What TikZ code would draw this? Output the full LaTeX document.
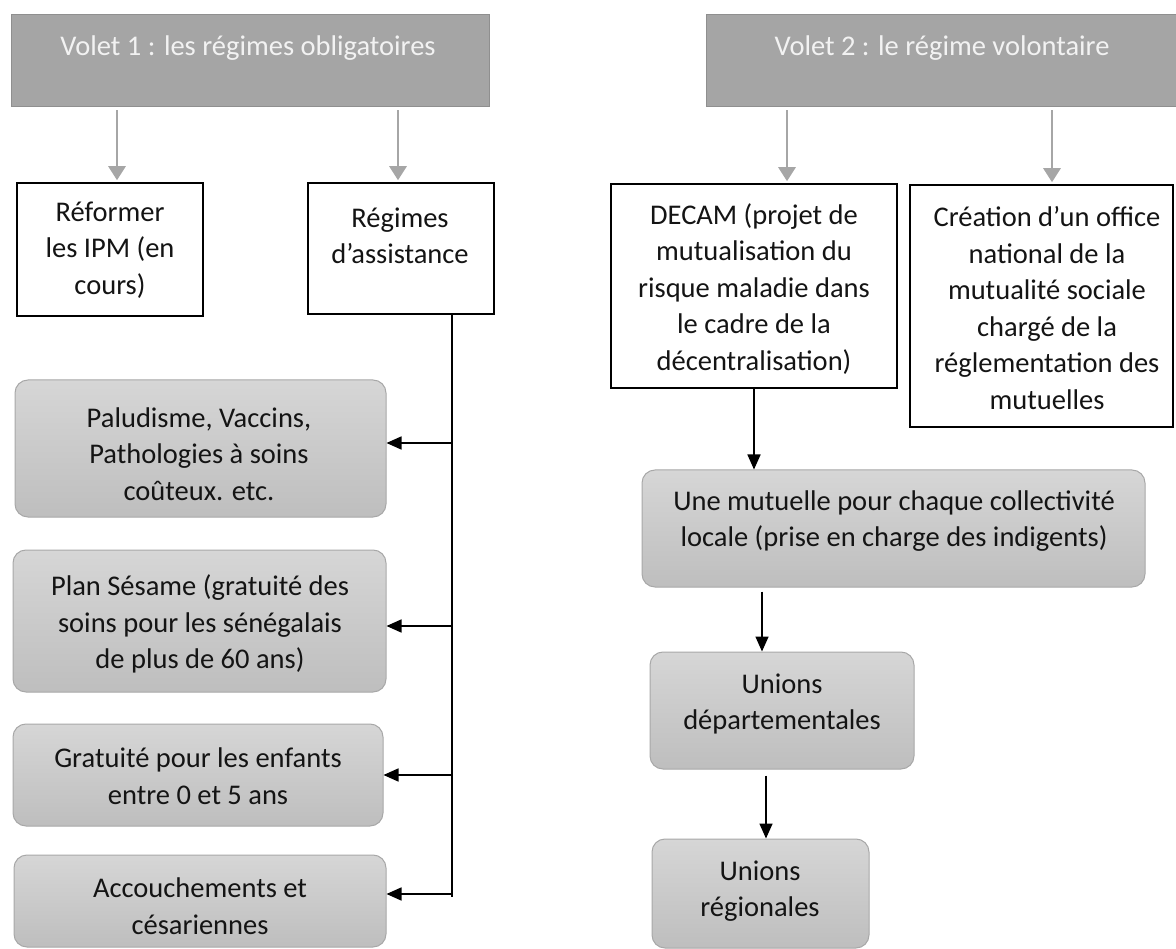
\documentclass[tikz,border=0pt]{standalone}
\usepackage{fontspec}
\setmainfont{Carlito}
\usetikzlibrary{arrows.meta,calc}
\definecolor{hdrfill}{HTML}{A5A5A5}
\definecolor{hdrline}{HTML}{8F8F8F}
\definecolor{hdrtext}{HTML}{F2F2F2}
\definecolor{bodytext}{HTML}{141414}
\definecolor{rtop}{HTML}{D6D6D6}
\definecolor{rbot}{HTML}{BEBEBE}
\definecolor{rline}{HTML}{A8A8A8}
\definecolor{garrow}{HTML}{A6A6A6}
\begin{document}
\begin{tikzpicture}[x=1pt,y=-1pt,
  hdr/.style={rectangle, fill=hdrfill, draw=hdrline, line width=1pt, inner sep=0pt},
  sqbox/.style={rectangle, fill=white, draw=black, line width=1.5pt, inner sep=0pt},
  rbox/.style={rectangle, rounded corners=13pt, top color=rtop, bottom color=rbot, draw=rline, line width=1pt, inner sep=0pt},
  txt/.style={font=\fontsize{28.5pt}{36.5pt}\selectfont, align=center, text=bodytext, inner sep=0pt},
  htxt/.style={txt, text=hdrtext},
  garr/.style={draw=garrow, line width=2.8pt, -{Triangle[length=14pt,width=17pt]}},
  barr/.style={draw=black, line width=1.6pt, -{Triangle[length=15pt,width=13pt]}},
  bline/.style={draw=black, line width=1.6pt}
]
\useasboundingbox (0,0) rectangle (1176,949);

% headers
\node[hdr, minimum width=478pt, minimum height=92pt] (h1) at (250,61) {};
\node[htxt] (th1) at (248,48) {Volet 1 : les régimes obligatoires};
\node[hdr, minimum width=471pt, minimum height=92pt] (h2) at (941.5,61) {};
\node[htxt] (th2) at (942,48) {Volet 2 : le régime volontaire};

% left square boxes
\node[sqbox, minimum width=186pt, minimum height=133pt] (r1) at (110,249.5) {};
\node[txt] (tr1) at (110,250) {Réformer\\les IPM (en\\cours)};
\node[sqbox, minimum width=186pt, minimum height=131pt] (r2) at (401,248.5) {};
\node[txt] (tr2) at (400,236) {Régimes\\d’assistance};

% right square boxes
\node[sqbox, minimum width=286pt, minimum height=204pt] (d1) at (754,286) {};
\node[txt] (td1) at (754,289) {DECAM (projet de\\mutualisation du\\risque maladie dans\\le cadre de la\\décentralisation)};
\node[sqbox, minimum width=263pt, minimum height=242pt] (c1) at (1041.5,306) {};
\node[txt] (tc1) at (1047,308) {Création d’un office\\national de la\\mutualité sociale\\chargé de la\\réglementation des\\mutuelles};

% left rounded boxes
\node[rbox, minimum width=371pt, minimum height=137pt] (p1) at (200.5,448.5) {};
\node[txt] (tp1) at (199,454) {Paludisme, Vaccins,\\Pathologies à soins\\coûteux. etc.};
\node[rbox, minimum width=373pt, minimum height=142pt] (p2) at (199.5,621) {};
\node[txt] (tp2) at (200,624) {Plan Sésame (gratuité des\\soins pour les sénégalais\\de plus de 60 ans)};
\node[rbox, minimum width=370pt, minimum height=102pt] (p3) at (198,775) {};
\node[txt] (tp3) at (198,776) {Gratuité pour les enfants\\entre 0 et 5 ans};
\node[rbox, minimum width=372pt, minimum height=92pt] (p4) at (200,901) {};
\node[txt] (tp4) at (200,906) {Accouchements et\\césariennes};

% right rounded boxes
\node[rbox, minimum width=503pt, minimum height=117pt] (m1) at (893.5,528.5) {};
\node[txt] (tm1) at (894,521) {Une mutuelle pour chaque collectivité\\locale (prise en charge des indigents)};
\node[rbox, minimum width=264pt, minimum height=117pt] (u1) at (782,710.5) {};
\node[txt] (tu1) at (782,704) {Unions\\départementales};
\node[rbox, minimum width=217pt, minimum height=109pt] (u2) at (760.5,893.5) {};
\node[txt] (tu2) at (760,891) {Unions\\régionales};

% coordinates for connector x positions
\coordinate (ga) at (117,0);
\coordinate (gb) at (398,0);
\coordinate (gc) at (787,0);
\coordinate (gd) at (1052,0);
\coordinate (mx) at (762,0);
\coordinate (ux) at (766,0);
\coordinate (vx) at (452,0);
\coordinate (v1) at (452,443);
\coordinate (v2) at (452,626);
\coordinate (v3) at (452,775);
\coordinate (v4) at (452,894);
\coordinate (vend) at (452,897);

% gray arrows from headers
\draw[garr, shorten <=3pt, shorten >=2pt] (ga |- h1.south) -- (ga |- r1.north);
\draw[garr, shorten <=3pt, shorten >=2pt] (gb |- h1.south) -- (gb |- r2.north);
\draw[garr, shorten <=3pt, shorten >=2pt] (gc |- h2.south) -- (gc |- d1.north);
\draw[garr, shorten <=3pt, shorten >=2pt] (gd |- h2.south) -- (gd |- c1.north);

% assistance branch
\draw[bline] (vx |- r2.south) -- (vend);
\draw[barr] (v1) -- (v1 -| p1.east);
\draw[barr] (v2) -- (v2 -| p2.east);
\draw[barr] (v3) -- (v3 -| p3.east);
\draw[barr] (v4) -- (v4 -| p4.east);

% volontaire chain
\draw[barr] (d1.south) -- (d1.south |- m1.north);
\draw[barr, shorten <=4pt] (mx |- m1.south) -- (mx |- u1.north);
\draw[barr, shorten <=6pt] (ux |- u1.south) -- (ux |- u2.north);
\end{tikzpicture}
\end{document}
